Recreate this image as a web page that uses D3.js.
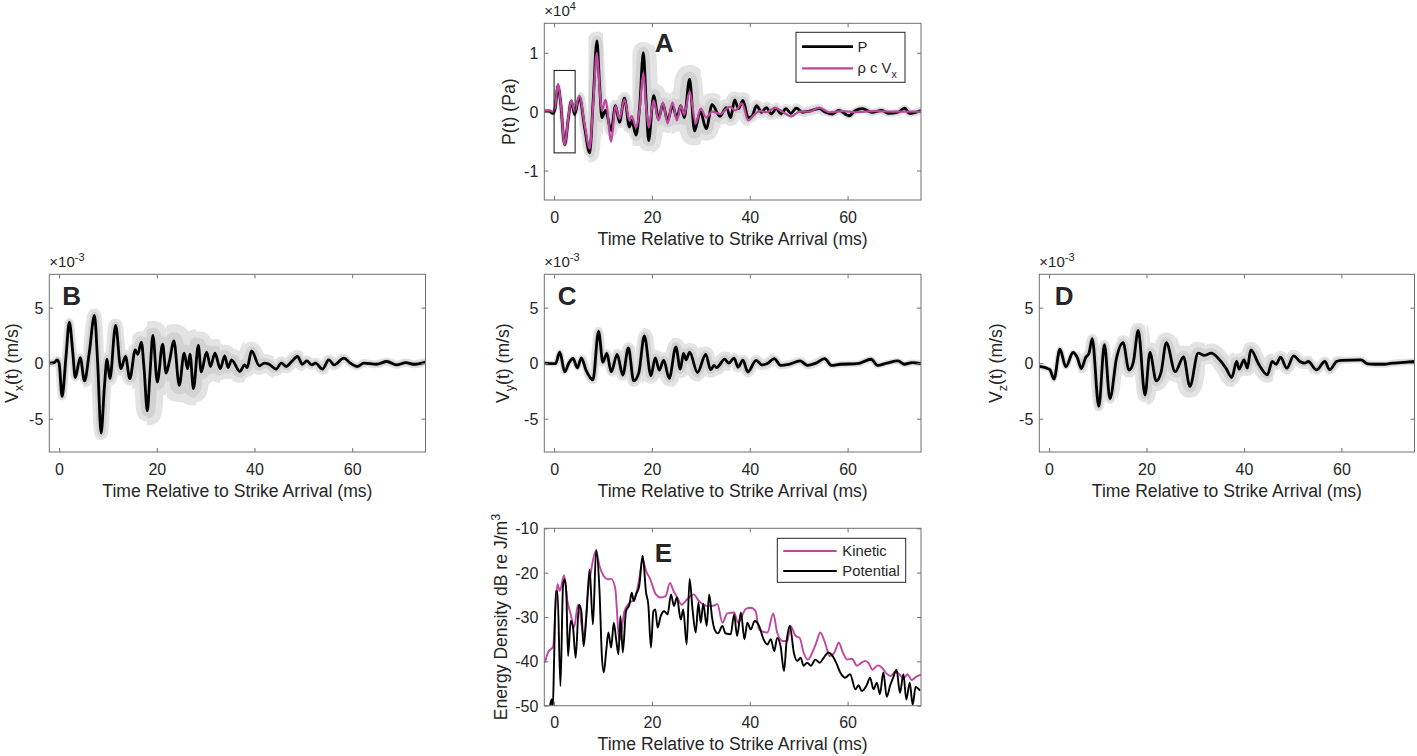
<!DOCTYPE html>
<html><head><meta charset="utf-8">
<script src="https://cdn.jsdelivr.net/npm/d3@7"></script>
<style>
body{margin:0;background:#fff;}
svg{display:block;}
text{font-family:"Liberation Sans",Arial,Helvetica,sans-serif;fill:#262626;}
</style>
</head><body><script>
// ---------------- DATA ----------------
const timeDomain = [-2, 75];
const timeTicks = [0, 20, 40, 60];
const pressureTicks = [-1, 0, 1];          // x10^4 Pa
const velocityTicks = [-5, 0, 5];          // x10^-3 m/s
const energyTicks = [-50, -40, -30, -20, -10]; // dB re J/m^3

// Panel A: pressure (x10^4 Pa), [time ms, value]
const pressureP = [[-2,0.01],[-1,0.01],[-0.26,-0.03],[0.2,0.05],[0.82,0.44],[1.3,0.18],[2.18,-0.56],[2.9,-0.12],[3.53,0.18],[4.2,-0.05],[5.16,0.25],[6.3,-0.3],[7.26,-0.70],[8.0,0.2],[8.75,1.2],[9.3,0.45],[9.77,-0.10],[10.52,0.02],[11.67,-0.32],[12.55,0.10],[13.36,-0.18],[14.38,0.23],[15.4,-0.26],[15.87,-0.15],[16.75,-0.40],[17.5,0.1],[18.24,1.0],[18.8,0.2],[19.33,-0.49],[20.35,0.27],[21.36,-0.12],[22.24,0.13],[23.2,-0.15],[24.2,0.10],[25.1,-0.10],[25.9,0.10],[26.6,-0.10],[27.7,0.55],[28.7,-0.33],[29.9,0.0],[31.1,-0.29],[32.3,0.12],[33.9,-0.08],[35.2,0.07],[36.1,-0.1],[36.9,0.2],[37.7,0.05],[38.6,0.19],[39.7,-0.1],[40.4,-0.08],[41.4,0.1],[42.4,-0.01],[43.4,0.07],[44.4,-0.04],[45.4,0.05],[46.4,-0.04],[47.4,0.05],[48.4,-0.03],[49.5,0.06],[50.8,-0.01],[52.2,0.01],[54.2,0.05],[55.5,-0.01],[56.9,-0.04],[58.2,0.02],[60.3,-0.07],[61.6,0.02],[63,0.05],[65,-0.01],[67,0.02],[68.3,-0.03],[70.3,-0.01],[71.7,0.06],[72.6,-0.03],[75,0.02]];
const pressureRhoCVx = [[-2,0.02],[-1,0.02],[-0.26,0.0],[0.2,0.08],[0.82,0.47],[1.3,0.2],[2.18,-0.56],[2.9,-0.1],[3.53,0.19],[4.2,0.0],[5.16,0.27],[6.3,-0.25],[7.26,-0.63],[8.0,0.15],[8.75,1.0],[9.3,0.4],[9.77,0.02],[10.52,0.2],[11.67,-0.51],[12.55,0.1],[13.36,-0.12],[14.38,0.21],[15.4,-0.15],[15.87,-0.07],[16.75,-0.27],[17.5,0.05],[18.24,0.66],[18.8,0.1],[19.33,-0.27],[20.35,0.19],[21.36,-0.15],[22.24,0.16],[23.2,-0.2],[24.2,0.16],[25.1,-0.15],[25.9,0.1],[26.6,-0.05],[27.7,0.34],[28.95,-0.2],[29.97,0.05],[31.1,-0.1],[32.3,0.0],[33.9,-0.04],[35.9,0.08],[37.1,0.02],[38.4,0.14],[39.7,-0.15],[40.7,-0.07],[42.0,0.01],[43.5,-0.01],[45.1,0.07],[46.8,-0.01],[48.5,-0.08],[50.2,0.0],[52.2,0.0],[54.2,0.07],[56.2,-0.01],[59,0.01],[61.6,-0.01],[65.5,0.01],[70,0.0],[75,0.0]];
// ensemble spread (half-width, same units) per time window [t0, t1, spread]
const spreadP = [[-2,5,0.03],[5,7,0.07],[7,10,0.15],[10,16,0.09],[16,20,0.17],[20,24,0.2],[24,30,0.23],[30,34,0.19],[34,40,0.13],[40,46,0.09],[46,55,0.07],[55,75,0.05]];
const boxTime = [0, 4.3];
const boxValue = [-0.7, 0.7];

// Panel B-D: particle velocity (x10^-3 m/s), [time ms, value]
const velocityX = [[-2,0.0],[-1,0.05],[-0.4,0.3],[0.0,0.0],[0.62,-3.0],[1.4,0.5],[2.1,3.7],[2.8,1.0],[3.32,-1.3],[4.33,0.5],[5.21,-1.6],[6.2,1.0],[7.24,4.3],[7.9,0.0],[8.6,-6.3],[9.3,-2.0],[9.81,0.36],[10.4,-1.4],[11.57,3.4],[12.65,-0.5],[13.6,0.6],[14.48,-1.4],[15.6,1.2],[16.1,0.8],[16.84,1.9],[17.4,-0.5],[18.06,-4.3],[18.6,-1.0],[19.2,2.5],[20.1,-1.7],[21.2,1.7],[21.9,-0.9],[22.6,0.2],[23.5,2.0],[24.6,-2.0],[25.6,0.9],[26.3,-0.5],[26.8,0.8],[27.5,-2.3],[28.5,1.6],[29.1,-0.8],[30.2,1.0],[31.0,-0.3],[31.9,0.9],[33.0,-0.5],[33.9,0.66],[34.6,-0.4],[35.3,0.3],[37.0,-0.75],[38.0,-0.15],[38.5,-0.4],[39.4,1.1],[41.0,-0.24],[42.0,0.0],[43.0,-0.1],[44.4,-0.54],[45.5,0.0],[46.5,-0.3],[47.5,0.1],[48.8,0.6],[49.8,-0.1],[50.7,0.2],[51.7,-0.15],[52.5,0.0],[53.9,-0.54],[55.2,0.3],[56.3,-0.15],[58.3,0.45],[59.6,0.0],[61.0,-0.3],[62.4,0.0],[65.0,-0.1],[67.1,0.15],[69.1,-0.15],[71.0,0.05],[72.5,-0.1],[75,0.1]];
const velocityY = [[-2,0.0],[0.3,-0.05],[1.16,1.0],[2.18,-0.78],[3.0,0.0],[3.87,0.42],[4.75,-0.42],[5.57,0.48],[6.5,-0.6],[7.94,-1.5],[9.09,2.87],[9.97,0.1],[10.79,0.87],[11.67,-0.78],[12.9,0.78],[14.04,-1.07],[15.19,1.37],[16.28,-1.6],[17.3,-0.9],[18.45,2.45],[19.8,-1.13],[20.68,0.48],[21.5,-0.63],[22.4,0.27],[23.53,-1.37],[24.9,1.46],[25.8,-0.54],[26.45,0.87],[27.0,0.3],[27.7,1.0],[29.3,-0.84],[31.0,0.78],[32.0,-0.6],[32.7,-0.2],[33.2,-0.4],[34.9,0.36],[35.7,0.0],[36.8,0.45],[37.6,-0.36],[38.6,0.27],[39.6,-0.8],[41.3,0.25],[42.5,-0.15],[43.7,0.0],[45.0,0.4],[46.3,-0.2],[48,-0.1],[50.3,0.2],[51.8,-0.2],[53.5,0.0],[55.3,0.4],[56.7,-0.2],[58.5,-0.1],[62,-0.05],[64.8,0.35],[66.1,-0.2],[68,0.0],[70.3,0.2],[71.6,-0.1],[73.2,0.05],[75,-0.05]];
const velocityZ = [[-2,-0.3],[-0.5,-0.45],[0.2,-0.6],[1.01,-1.43],[2.23,1.25],[3.45,-0.33],[4.93,0.96],[5.8,0.5],[6.63,-0.48],[7.5,0.5],[8.2,0.9],[8.86,2.2],[10.21,-3.9],[11.36,1.67],[12.5,-3.2],[13.86,0.48],[15.2,1.85],[16.4,-0.63],[17.3,0.1],[18.3,2.96],[19.7,-2.87],[20.7,0.96],[22.0,-1.6],[23.0,-0.8],[24.07,1.85],[25.9,-0.78],[27.6,0.57],[28.9,-2.1],[30.6,0.9],[31.9,0.7],[33.3,0.9],[35.0,0.3],[36.3,-0.45],[37.5,-1.29],[38.5,0.15],[39.0,-0.54],[40.0,0.3],[40.7,-0.45],[41.4,1.2],[43.1,-0.15],[44.8,-1.05],[45.8,0.15],[46.6,-0.1],[47.5,0.54],[48.8,-0.45],[50.2,0.66],[51.5,0.15],[52.4,0.0],[53.2,0.15],[54.9,-0.6],[56.6,0.15],[57.6,-0.6],[59.0,0.15],[60.0,0.25],[64.0,0.3],[65.4,-0.06],[66.8,-0.1],[68.8,-0.1],[70.5,0.0],[72.2,0.05],[75,0.15]];
const spreadX = [[-2,5,0.3],[5,10,0.55],[10,15,0.55],[15,18,0.9],[18,22,1.25],[22,28,1.45],[28,33,1.2],[33,38,0.95],[38,44,0.75],[44,50,0.55],[50,58,0.42],[58,75,0.3]];
const spreadY = [[-2,6,0.2],[6,12,0.33],[12,18,0.45],[18,24,0.65],[24,30,0.75],[30,36,0.65],[36,45,0.42],[45,55,0.3],[55,75,0.22]];
const spreadZ = [[-2,6,0.2],[6,14,0.38],[14,20,0.6],[20,26,0.85],[26,32,0.95],[32,38,0.8],[38,46,0.65],[46,54,0.48],[54,60,0.38],[60,75,0.25]];

// Panel E: energy density (dB re J/m^3), [time ms, value]
const energyKinetic = [[-1.89,-40.3],[-1.21,-37.9],[-0.2,-36.7],[0.28,-28.3],[0.69,-22.6],[1.16,-24.1],[2.04,-20.6],[2.72,-26.4],[3.4,-29.4],[4.07,-32.4],[4.89,-27.2],[6.1,-34.3],[6.92,-24.5],[7.6,-19.3],[8.6,-15.1],[9.29,-18.5],[10.17,-20.8],[10.99,-21.5],[11.67,-21.4],[12.48,-23.4],[13.36,-35.4],[14.38,-28.7],[15.4,-26.8],[16.4,-26.0],[17.4,-21.5],[18.1,-17.0],[18.8,-19.6],[19.66,-21.5],[20.8,-24.9],[21.8,-25.6],[22.8,-25.3],[23.7,-22.3],[24.4,-24.1],[25.2,-25.6],[26.0,-27.2],[27.3,-25.9],[28.5,-24.9],[29.6,-26.4],[31.3,-27.5],[32.3,-27.5],[33.4,-27.1],[34.4,-31.3],[35.4,-29.2],[36.8,-29.0],[37.6,-31.3],[39.2,-28.2],[40.2,-27.9],[41.2,-28.7],[41.9,-32.8],[43.6,-33.5],[44.8,-29.2],[45.6,-33.5],[46.7,-35.4],[47.7,-35.4],[48.3,-32.0],[49.4,-34.3],[50.2,-34.7],[51.0,-38.0],[51.9,-39.6],[52.9,-37.7],[53.6,-35.8],[54.4,-33.5],[55.5,-36.2],[56.3,-38.8],[57.3,-38.0],[58.2,-35.8],[59.0,-37.9],[59.9,-39.6],[60.9,-39.4],[61.9,-41.0],[62.7,-40.4],[63.6,-39.9],[64.3,-40.4],[65.1,-41.9],[66.1,-40.9],[67.0,-41.4],[67.9,-42.7],[68.8,-43.3],[69.7,-42.4],[70.6,-42.9],[71.4,-43.9],[72.2,-42.9],[73.1,-44.2],[74.0,-43.5],[75,-43.0]];
const energyPotential = [[-0.9,-50.5],[-0.5,-48.6],[-0.26,-50.5],[0.0,-39.6],[0.35,-24.2],[0.69,-24.2],[1.3,-45.6],[1.84,-22.7],[2.18,-21.5],[2.5,-24.5],[2.85,-38.8],[3.4,-30.9],[3.87,-32.4],[4.41,-39.2],[5.09,-27.2],[5.57,-28.7],[6.04,-36.6],[6.58,-30.2],[7.26,-19.3],[7.94,-31.7],[8.6,-14.9],[9.3,-24.5],[9.77,-38.8],[10.17,-42.5],[10.65,-37.7],[11.1,-33.5],[11.67,-36.9],[12.2,-31.3],[12.68,-35.0],[13.16,-38.4],[13.56,-29.8],[14.04,-38.0],[14.7,-28.7],[15.4,-27.2],[15.87,-24.5],[16.28,-26.4],[16.75,-24.9],[17.4,-23.0],[18.1,-16.2],[18.8,-24.5],[19.26,-27.2],[19.8,-36.9],[20.3,-28.7],[20.7,-28.3],[21.16,-32.4],[21.8,-29.8],[22.5,-28.7],[23.2,-29.4],[23.9,-24.9],[24.5,-27.5],[25.1,-25.6],[25.9,-30.6],[26.4,-28.3],[27.1,-36.2],[27.7,-21.4],[28.3,-28.3],[28.95,-33.5],[29.5,-26.8],[29.97,-31.3],[30.5,-27.0],[31.2,-32.0],[31.7,-24.9],[32.3,-30.2],[32.8,-32.8],[33.5,-33.7],[34.4,-32.0],[35.05,-33.7],[36.1,-33.9],[36.8,-29.4],[37.4,-34.3],[38.2,-29.0],[38.9,-35.0],[39.5,-31.3],[40.2,-32.8],[41.0,-30.9],[41.9,-32.0],[42.8,-35.0],[43.6,-36.2],[44.3,-35.0],[45.0,-37.7],[45.6,-34.7],[46.3,-36.6],[47.0,-42.2],[47.5,-35.8],[48.2,-32.0],[49.0,-38.0],[49.7,-39.9],[50.4,-39.2],[51.0,-41.0],[51.7,-40.3],[52.5,-41.0],[53.4,-39.6],[54.3,-40.3],[55.1,-39.2],[56.1,-38.0],[56.8,-38.6],[57.7,-40.4],[58.5,-42.5],[59.5,-43.7],[60.5,-42.9],[61.6,-46.3],[62.2,-45.4],[62.9,-46.7],[63.9,-45.4],[64.6,-43.7],[65.3,-46.3],[65.98,-44.8],[66.6,-47.4],[67.3,-42.5],[68.0,-48.0],[68.7,-45.4],[69.3,-43.7],[70.0,-41.9],[70.7,-47.1],[71.4,-42.9],[72.0,-48.6],[72.7,-44.8],[73.3,-49.8],[73.9,-45.8],[74.8,-46.6]];

// ---------------- DRAWING ----------------
const W = 1417, H = 756;
const MAGENTA = '#BF479F', GRAY_OUT = '#e3e3e3', GRAY_IN = '#d2d2d2', AXIS = '#707070', INK = '#262626';
const FONT_TICK = 16, FONT_LABEL = 17.6, FONT_LEG = 14.8;

const svg = d3.select('body').append('svg').attr('width', W).attr('height', H);
const defs = svg.append('defs');
let clipCount = 0;
function clipRect(x, y, w, h) {
  const id = 'clip' + (clipCount++);
  defs.append('clipPath').attr('id', id).append('rect').attr('x', x).attr('y', y).attr('width', w).attr('height', h);
  return `url(#${id})`;
}

function panel(o) {
  const g = svg.append('g');
  const x = d3.scaleLinear().domain(timeDomain).range([o.left, o.right]);
  const y = d3.scaleLinear().domain(o.yDomain).range([o.bottom, o.top]);
  const plot = g.append('g').attr('clip-path', clipRect(o.left, o.top, o.right - o.left, o.bottom - o.top));
  const line = d3.line().x(d => x(d[0])).y(d => y(d[1])).curve(d3.curveMonotoneX);

  // gray ensemble spread around the mean trace (outer light layer, inner denser layer)
  if (o.spread) {
    [[1, GRAY_OUT], [0.5, GRAY_IN]].forEach(([f, col]) => {
      o.spread.forEach(([t0, t1, s]) => {
        plot.append('path').datum(o.spreadOf)
          .attr('clip-path', clipRect(x(t0), o.top, x(t1) - x(t0), o.bottom - o.top))
          .attr('d', line).attr('fill', 'none').attr('stroke', col)
          .attr('stroke-width', Math.abs(y(0) - y(s)) * 2 * f + 1.5)
          .attr('stroke-linejoin', 'round').attr('stroke-linecap', 'round');
      });
    });
  }
  o.series.forEach(s => {
    plot.append('path').datum(s.data).attr('d', line).attr('fill', 'none')
      .attr('stroke', s.color).attr('stroke-width', s.width).attr('stroke-linejoin', 'round');
  });
  if (o.box) {
    plot.append('rect').attr('x', x(o.box[0][0])).attr('y', y(o.box[1][1]))
      .attr('width', x(o.box[0][1]) - x(o.box[0][0])).attr('height', y(o.box[1][0]) - y(o.box[1][1]))
      .attr('fill', 'none').attr('stroke', '#111').attr('stroke-width', 1);
  }

  // axes (MATLAB style: box, inward ticks on all sides)
  const tk = 4;
  const axB = g.append('g').attr('transform', `translate(0,${o.bottom})`)
    .call(d3.axisBottom(x).tickValues(timeTicks).tickSize(-tk).tickSizeOuter(0).tickPadding(0));
  const axT = g.append('g').attr('transform', `translate(0,${o.top})`)
    .call(d3.axisTop(x).tickValues(timeTicks).tickSize(-tk).tickSizeOuter(0).tickFormat(''));
  const axL = g.append('g').attr('transform', `translate(${o.left},0)`)
    .call(d3.axisLeft(y).tickValues(o.yTicks).tickSize(-tk).tickSizeOuter(0).tickPadding(0));
  const axR = g.append('g').attr('transform', `translate(${o.right},0)`)
    .call(d3.axisRight(y).tickValues(o.yTicks).tickSize(-tk).tickSizeOuter(0).tickFormat(''));
  [axB, axT, axL, axR].forEach(a => {
    a.select('.domain').remove();
    a.selectAll('line').attr('stroke', AXIS);
    a.attr('font-family', null).attr('font-size', null);
  });
  axB.selectAll('text').attr('y', 22.5).attr('dy', null).attr('fill', INK).attr('font-size', FONT_TICK);
  axL.selectAll('text').attr('x', -6).attr('dy', '0.34em').attr('fill', INK).attr('font-size', FONT_TICK)
    .text(d => d < 0 ? '-' + Math.abs(d) : d);
  g.append('rect').attr('x', o.left).attr('y', o.top).attr('width', o.right - o.left).attr('height', o.bottom - o.top)
    .attr('fill', 'none').attr('stroke', AXIS).attr('stroke-width', 1);

  // x label
  g.append('text').attr('x', (o.left + o.right) / 2).attr('y', o.bottom + 44.5)
    .attr('text-anchor', 'middle').attr('font-size', FONT_LABEL).text('Time Relative to Strike Arrival (ms)');
  // y label
  const yl = g.append('text').attr('transform', `translate(${o.left + o.yLabelOffset},${(o.top + o.bottom) / 2}) rotate(-90)`)
    .attr('text-anchor', 'middle').attr('font-size', FONT_LABEL);
  o.yLabel.forEach(p => {
    const ts = yl.append('tspan').text(p.t);
    if (p.sub) ts.attr('font-size', FONT_LABEL * 0.72).attr('dy', 5);
    if (p.back) ts.attr('dy', -5);
    if (p.sup) ts.attr('font-size', FONT_LABEL * 0.72).attr('dy', -7);
  });
  // exponent
  if (o.exp) {
    const ex = g.append('text').attr('x', o.left).attr('y', o.top - 7).attr('font-size', 15);
    ex.append('tspan').text('\u00d710');
    ex.append('tspan').attr('font-size', 11).attr('dy', -6).text(o.exp);
  }
  // panel letter
  g.append('text').attr('x', o.left + o.letterDx).attr('y', o.top + o.letterDy)
    .attr('font-size', 26).attr('font-weight', 'bold').attr('fill', '#000').text(o.letter);

  // legend
  if (o.legend) {
    const L = o.legend;
    g.append('rect').attr('x', L.x).attr('y', L.y).attr('width', L.w).attr('height', L.h)
      .attr('fill', '#fff').attr('stroke', INK).attr('stroke-width', 1);
    L.items.forEach((it, i) => {
      const yy = L.y + L.first + i * L.step;
      g.append('line').attr('x1', L.x + 6).attr('x2', L.x + 6 + L.len).attr('y1', yy).attr('y2', yy)
        .attr('stroke', it.color).attr('stroke-width', it.width);
      const t = g.append('text').attr('x', L.x + L.len + L.gap).attr('y', yy).attr('dy', '0.35em').attr('font-size', FONT_LEG);
      it.label.forEach(p => {
        const ts = t.append('tspan').text(p.t);
        if (p.sub) ts.attr('font-size', FONT_LEG * 0.72).attr('dy', 5);
      });
    });
  }
}

panel({
  left: 544.3, right: 921, top: 23.3, bottom: 200, yDomain: [-1.5, 1.5], yTicks: pressureTicks,
  series: [{data: pressureP, color: '#000', width: 2.8}, {data: pressureRhoCVx, color: MAGENTA, width: 2.2}],
  spread: spreadP, spreadOf: pressureP, box: [boxTime, boxValue],
  yLabel: [{t: 'P(t) (Pa)'}], yLabelOffset: -29.5, exp: '4', letter: 'A', letterDx: 110.5, letterDy: 29,
  legend: {x: 796, y: 32.3, w: 109, h: 50, first: 14.4, step: 21.6, len: 51, gap: 10.5, items: [
    {color: '#000', width: 2.8, label: [{t: 'P'}]},
    {color: MAGENTA, width: 2.2, label: [{t: '\u03c1 c V'}, {t: 'x', sub: true}]}]}
});
panel({
  left: 49.3, right: 425.5, top: 274.3, bottom: 452, yDomain: [-8, 8], yTicks: velocityTicks,
  series: [{data: velocityX, color: '#000', width: 2.8}], spread: spreadX, spreadOf: velocityX,
  yLabel: [{t: 'V'}, {t: 'x', sub: true}, {t: '(t) (m/s)', back: true}], yLabelOffset: -31.5, exp: '-3', letter: 'B', letterDx: 13, letterDy: 31
});
panel({
  left: 544.3, right: 921, top: 274.3, bottom: 452, yDomain: [-8, 8], yTicks: velocityTicks,
  series: [{data: velocityY, color: '#000', width: 2.8}], spread: spreadY, spreadOf: velocityY,
  yLabel: [{t: 'V'}, {t: 'y', sub: true}, {t: '(t) (m/s)', back: true}], yLabelOffset: -35.5, exp: '-3', letter: 'C', letterDx: 13.5, letterDy: 31
});
panel({
  left: 1039.3, right: 1414.5, top: 274.3, bottom: 452, yDomain: [-8, 8], yTicks: velocityTicks,
  series: [{data: velocityZ, color: '#000', width: 2.8}], spread: spreadZ, spreadOf: velocityZ,
  yLabel: [{t: 'V'}, {t: 'z', sub: true}, {t: '(t) (m/s)', back: true}], yLabelOffset: -37, exp: '-3', letter: 'D', letterDx: 15.5, letterDy: 31
});
panel({
  left: 544.3, right: 921, top: 528.3, bottom: 705.7, yDomain: [-50, -10], yTicks: energyTicks,
  series: [{data: energyKinetic, color: MAGENTA, width: 1.9}, {data: energyPotential, color: '#000', width: 1.9}],
  yLabel: [{t: 'Energy Density dB re J/m'}, {t: '3', sup: true}], yLabelOffset: -37, letter: 'E', letterDx: 110.5, letterDy: 33.5,
  legend: {x: 777.3, y: 538.3, w: 128.4, h: 44, first: 12.7, step: 20, len: 53.4, gap: 11.6, items: [
    {color: MAGENTA, width: 1.9, label: [{t: 'Kinetic'}]},
    {color: '#000', width: 1.9, label: [{t: 'Potential'}]}]}
});
</script></body></html>
